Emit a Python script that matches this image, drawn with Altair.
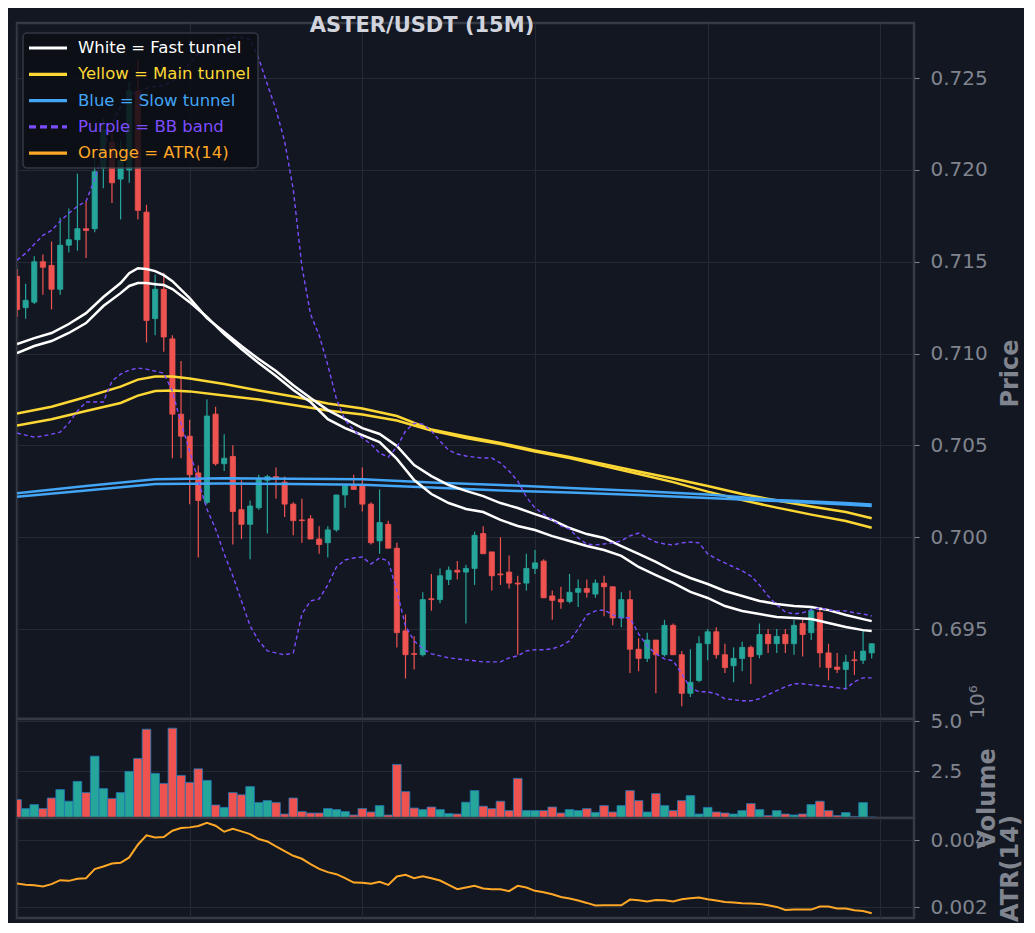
import altair as alt
import pandas as pd

# ---------------- data ----------------
candle_index = list(range(100))
open_ = [0.7142,0.7125,0.7128,0.7150,0.7148,0.7135,0.7159,0.7162,0.7168,0.7168,
         0.7201,0.7215,0.7195,0.7200,0.7243,0.7177,0.7119,0.7135,0.7108,0.7067,
         0.7055,0.7035,0.7019,0.7067,0.7040,0.7044,0.7015,0.7007,0.7016,0.7031,
         0.7033,0.7030,0.7018,0.70094,0.7010,0.6999,0.6997,0.7004,0.7023,0.7028,
         0.7028,0.7018,0.6998,0.7007,0.6994,0.6949,0.69366,0.6936,0.69665,0.6966,
         0.6977,0.6982,0.6981,0.6983,0.7002,0.6992,0.69800,0.6981,0.69750,0.6975,
         0.6983,0.6987,0.6968,0.69662,0.6965,0.6970,0.6972,0.6969,0.6975,0.6973,
         0.6956,0.6966,0.6939,0.6934,0.6944,0.6936,0.6952,0.6936,0.6915,0.6922,
         0.6942,0.69485,0.6936,0.6930,0.6934,0.6940,0.6936,0.6947,0.6942,0.6947,
         0.6942,0.6953,0.6948,0.6959,0.6937,0.69293,0.6928,0.69332,0.6933,0.6937]
high = [0.7146,0.7138,0.7153,0.7154,0.7161,0.7174,0.7179,0.7198,0.7183,0.7210,
        0.7228,0.7222,0.7216,0.7248,0.7260,0.7181,0.7143,0.7144,0.7110,0.7096,
        0.7064,0.7039,0.7075,0.7071,0.7056,0.7050,0.7031,0.7020,0.7034,0.7034,
        0.7038,0.7033,0.7019,0.7021,0.7012,0.7006,0.7006,0.7023,0.7028,0.7034,
        0.7038,0.7019,0.7026,0.7009,0.6997,0.6958,0.6946,0.6970,0.6980,0.6983,
        0.6984,0.6987,0.6985,0.7003,0.7006,0.6992,0.7000,0.6990,0.6979,0.6991,
        0.6993,0.6988,0.6971,0.6973,0.6980,0.6977,0.6977,0.6977,0.6979,0.6973,
        0.6970,0.6971,0.6945,0.6948,0.6944,0.6955,0.6953,0.6938,0.6939,0.6946,
        0.6950,0.6951,0.6942,0.6940,0.6943,0.6941,0.6953,0.6950,0.6950,0.6950,
        0.6955,0.6955,0.6962,0.6961,0.6942,0.6937,0.6936,0.6938,0.6949,0.6942]
low = [0.7120,0.7119,0.7127,0.7132,0.7124,0.7132,0.7155,0.7156,0.7152,0.7166,
       0.7190,0.7182,0.7173,0.7193,0.7173,0.7106,0.7110,0.7101,0.7043,0.7043,
       0.7018,0.6989,0.7018,0.7039,0.7036,0.6996,0.6999,0.6988,0.7015,0.7002,
       0.7021,0.7011,0.7001,0.6997,0.6999,0.6991,0.6989,0.7003,0.7016,0.7026,
       0.7014,0.6996,0.6991,0.6994,0.6940,0.6923,0.6928,0.6935,0.6960,0.6964,
       0.6974,0.6977,0.6953,0.6974,0.6991,0.6971,0.6974,0.6972,0.6936,0.6971,
       0.6980,0.6967,0.6955,0.6961,0.6964,0.6962,0.6967,0.6967,0.6957,0.6952,
       0.6951,0.6926,0.6927,0.6932,0.6915,0.6935,0.6936,0.6908,0.6913,0.6921,
       0.6933,0.6934,0.6926,0.6921,0.6927,0.6920,0.6934,0.6937,0.6937,0.6937,
       0.6936,0.6935,0.6944,0.6929,0.6922,0.6926,0.6917,0.6925,0.6931,0.6934]
close = [0.7124,0.7129,0.7150,0.7147,0.7135,0.7159,0.7162,0.7168,0.7167,0.7199,
         0.7222,0.7193,0.7205,0.7243,0.7178,0.7118,0.7135,0.7109,0.7067,0.7055,
         0.7034,0.7020,0.7066,0.7040,0.7043,0.7014,0.7007,0.7017,0.7032,0.7033,
         0.7032,0.7018,0.7009,0.70090,0.6999,0.6996,0.7004,0.7023,0.7028,0.7026,
         0.7018,0.6997,0.7008,0.6994,0.6948,0.6936,0.69362,0.6966,0.69660,0.6979,
         0.6982,0.6981,0.6983,0.7001,0.6991,0.6979,0.69795,0.6975,0.69745,0.6983,
         0.6986,0.6967,0.69656,0.69647,0.6970,0.6972,0.6970,0.6975,0.6973,0.6956,
         0.6966,0.6939,0.6934,0.6944,0.6936,0.6952,0.6936,0.6915,0.6921,0.6942,
         0.69485,0.6936,0.6929,0.6934,0.6940,0.6935,0.6947,0.6942,0.6946,0.6942,
         0.6952,0.6947,0.6960,0.6937,0.6929,0.69280,0.6932,0.69328,0.6938,0.6942]

volume_millions = [1.09,0.64,0.84,0.64,1.17,1.59,1.01,2.00,1.44,3.26,
                   1.64,1.14,1.44,2.50,3.15,4.61,2.40,1.90,4.66,2.30,
                   1.95,2.63,2.05,0.82,0.70,1.44,1.33,1.74,0.94,1.04,
                   0.94,0.37,1.17,0.49,0.42,0.42,0.64,0.59,0.49,0.32,
                   0.64,0.47,0.79,0.32,2.85,1.49,0.67,0.59,0.72,0.59,
                   0.39,0.37,0.96,1.54,0.76,0.64,1.01,0.54,2.15,0.54,
                   0.54,0.54,0.72,0.42,0.59,0.54,0.64,0.45,0.79,0.47,
                   0.79,1.54,1.04,0.47,1.39,0.79,0.54,1.04,1.29,0.37,
                   0.70,0.47,0.42,0.37,0.54,0.89,0.59,0.29,0.54,0.37,
                   0.32,0.37,0.84,1.01,0.54,0.29,0.44,0.25,0.94,0.22]

atr14 = [0.002706,0.002667,0.002657,0.002617,0.002687,0.002806,0.002786,0.002846,0.002866,0.003134,
         0.003214,0.003303,0.003323,0.003483,0.003861,0.004139,0.004080,0.004090,0.004279,0.004358,
         0.004378,0.004418,0.004517,0.004428,0.004249,0.004338,0.004259,0.004179,0.004030,0.003960,
         0.003811,0.003672,0.003532,0.003443,0.003284,0.003144,0.003045,0.002985,0.002866,0.002736,
         0.002726,0.002697,0.002756,0.002667,0.002915,0.002965,0.002866,0.002925,0.002866,0.002796,
         0.002667,0.002540,0.002587,0.002637,0.002557,0.002537,0.002537,0.002478,0.002637,0.002587,
         0.002488,0.002448,0.002388,0.002308,0.002259,0.002199,0.002129,0.002050,0.002060,0.002060,
         0.002060,0.002229,0.002209,0.002169,0.002219,0.002209,0.002169,0.002239,0.002269,0.002289,
         0.002239,0.002199,0.002159,0.002139,0.002119,0.002109,0.002100,0.002060,0.002010,0.001920,
         0.001930,0.001930,0.001930,0.002020,0.002020,0.001960,0.001960,0.001910,0.001891,0.001821]

fast_index = [0,2,4,6,8,10,12,13,14,15,16,17,18,20,22,24,26,28,30,32,34,36,38,40,42,44,46,48,
              50,52,54,56,58,60,62,64,66,68,70,72,74,76,78,80,82,84,86,88,90,92,94,96,98,99]
fast_upper = [0.71052,0.71084,0.71112,0.71161,0.71220,0.71308,0.71384,0.71438,0.71465,0.71460,
              0.71449,0.71427,0.71394,0.71302,0.71193,0.71117,0.71041,0.70970,0.70905,0.70828,
              0.70758,0.70692,0.70643,0.70594,0.70562,0.70497,0.70393,0.70333,0.70284,0.70252,
              0.70224,0.70186,0.70159,0.70126,0.70094,0.70050,0.70017,0.69996,0.69952,0.69909,
              0.69865,0.69816,0.69778,0.69745,0.69707,0.69680,0.69653,0.69636,0.69625,0.69620,
              0.69603,0.69576,0.69554,0.69543]
fast_lower = [0.71003,0.71041,0.71068,0.71112,0.71166,0.71259,0.71329,0.71368,0.71384,0.71384,
              0.71378,0.71373,0.71351,0.71280,0.71199,0.71106,0.71025,0.70948,0.70878,0.70802,
              0.70736,0.70643,0.70594,0.70556,0.70518,0.70426,0.70311,0.70235,0.70186,0.70154,
              0.70137,0.70094,0.70061,0.70039,0.70006,0.69979,0.69952,0.69930,0.69898,0.69838,
              0.69794,0.69751,0.69702,0.69669,0.69625,0.69598,0.69582,0.69565,0.69560,0.69554,
              0.69533,0.69511,0.69494,0.69489]

main_index = [0,4,8,12,14,16,18,20,24,28,32,36,40,44,48,52,56,60,64,68,72,76,80,84,88,92,96,99]
main_upper = [0.70673,0.70710,0.70763,0.70820,0.70858,0.70875,0.70875,0.70864,0.70834,0.70799,
              0.70766,0.70728,0.70701,0.70660,0.70586,0.70548,0.70513,0.70472,0.70437,0.70398,
              0.70358,0.70320,0.70279,0.70235,0.70200,0.70167,0.70137,0.70103]
main_lower = [0.70608,0.70642,0.70687,0.70731,0.70771,0.70796,0.70799,0.70794,0.70771,0.70750,
              0.70720,0.70690,0.70668,0.70635,0.70581,0.70540,0.70507,0.70466,0.70431,0.70387,
              0.70344,0.70300,0.70248,0.70202,0.70161,0.70123,0.70088,0.70051]

slow_index = [0,8,16,24,32,40,48,56,64,72,80,88,96,99]
slow_upper = [0.70239,0.70279,0.70315,0.70321,0.70318,0.70315,0.70298,0.70284,0.70268,0.70251,
              0.70232,0.70202,0.70186,0.70178]
slow_lower = [0.70220,0.70254,0.70290,0.70292,0.70289,0.70285,0.70271,0.70254,0.70243,0.70230,
              0.70213,0.70197,0.70178,0.70170]

bb_upper = [0.71508,0.71546,0.71595,0.71644,0.71671,0.71720,0.71764,0.71802,0.71829,0.71949,
            0.72112,0.72253,0.72346,0.72406,0.72427,0.72444,0.72455,0.72460,0.72482,0.72525,
            0.72580,0.72634,0.72672,0.72699,0.72710,0.72721,0.72721,0.72710,0.72607,0.72465,
            0.72329,0.72155,0.71894,0.71475,0.71214,0.71100,0.70937,0.70752,0.70638,0.70583,
            0.70540,0.70507,0.70458,0.70436,0.70491,0.70578,0.70621,0.70616,0.70578,0.70523,
            0.70474,0.70453,0.70442,0.70436,0.70431,0.70431,0.70404,0.70360,0.70306,0.70219,
            0.70159,0.70126,0.70094,0.70061,0.70045,0.69996,0.69963,0.69958,0.69963,0.69969,
            0.69980,0.70007,0.70023,0.69996,0.69974,0.69963,0.69958,0.69969,0.69974,0.69969,
            0.69909,0.69882,0.69860,0.69838,0.69816,0.69789,0.69740,0.69680,0.69631,0.69593,
            0.69582,0.69588,0.69604,0.69615,0.69604,0.69599,0.69599,0.69588,0.69582,0.69571]
bb_lower = [0.70567,0.70556,0.70545,0.70551,0.70561,0.70572,0.70621,0.70687,0.70736,0.70736,
            0.70736,0.70850,0.70888,0.70910,0.70921,0.70915,0.70904,0.70893,0.70795,0.70621,
            0.70469,0.70306,0.70153,0.70045,0.69909,0.69789,0.69653,0.69517,0.69435,0.69381,
            0.69370,0.69359,0.69370,0.69582,0.69653,0.69664,0.69740,0.69838,0.69876,0.69887,
            0.69892,0.69854,0.69887,0.69871,0.69707,0.69517,0.69435,0.69392,0.69365,0.69354,
            0.69343,0.69337,0.69332,0.69327,0.69321,0.69321,0.69321,0.69343,0.69354,0.69381,
            0.69387,0.69387,0.69392,0.69408,0.69435,0.69501,0.69577,0.69599,0.69604,0.69577,
            0.69561,0.69561,0.69474,0.69408,0.69365,0.69337,0.69327,0.69256,0.69180,0.69158,
            0.69158,0.69147,0.69120,0.69115,0.69109,0.69109,0.69120,0.69142,0.69164,0.69186,
            0.69202,0.69202,0.69196,0.69191,0.69186,0.69180,0.69175,0.69213,0.69234,0.69234]

legend_labels = ["White = Fast tunnel", "Yellow = Main tunnel", "Blue = Slow tunnel",
                 "Purple = BB band", "Orange = ATR(14)"]
price_ticks = [0.695, 0.700, 0.705, 0.710, 0.715, 0.720, 0.725]
volume_ticks = [2.5, 5.0]
atr_ticks = [0.002, 0.004]
x_grid = [0, 20, 40, 60, 80, 100]
title_text = "ASTER/USDT (15M)"

# ---------------- style ----------------
BG = "#131722"
GRID = "#262a35"
FRAME = "#363a45"
LABEL = "#80848e"
UP = "#26a69a"
DOWN = "#ef5350"
WHITE = "#ffffff"
YELLOW = "#fdd835"
BLUE = "#42a5f5"
PURPLE = "#7c4dff"
ORANGE = "#ffa726"
legend_colors = [WHITE, YELLOW, BLUE, PURPLE, ORANGE]
FONT = "DejaVu Sans"

W = 897
H_PRICE, H_VOL, H_ATR = 696, 99, 100

# ---------------- frames ----------------
candles = pd.DataFrame({"i": candle_index, "open": open_, "high": high,
                        "low": low, "close": close, "vol": volume_millions})
candles["dir"] = ["up" if c >= o else "down" for o, c in zip(open_, close)]
atr_df = pd.DataFrame({"i": candle_index, "atr": atr14})

fast_df = pd.concat([
    pd.DataFrame({"i": fast_index, "v": fast_upper, "s": "u"}),
    pd.DataFrame({"i": fast_index, "v": fast_lower, "s": "l"})], ignore_index=True)
main_df = pd.concat([
    pd.DataFrame({"i": main_index, "v": main_upper, "s": "u"}),
    pd.DataFrame({"i": main_index, "v": main_lower, "s": "l"})], ignore_index=True)
slow_df = pd.concat([
    pd.DataFrame({"i": slow_index, "v": slow_upper, "s": "u"}),
    pd.DataFrame({"i": slow_index, "v": slow_lower, "s": "l"})], ignore_index=True)
bb_df = pd.concat([
    pd.DataFrame({"i": candle_index, "v": bb_upper, "s": "u"}),
    pd.DataFrame({"i": candle_index, "v": bb_lower, "s": "l"})], ignore_index=True)

dir_scale = alt.Scale(domain=["up", "down"], range=[UP, DOWN])
xs = alt.Scale(domain=[0, 103.9], nice=False, zero=False)
x_axis = alt.Axis(values=x_grid, labels=False, ticks=False, domain=False, grid=True,
                  gridColor=GRID, title=None)


def yaxis(vals, fmt, title, tx, ty):
    return alt.Axis(orient="right", values=vals, format=fmt, title=title, titleAngle=270,
                    titleX=tx, titleY=ty, titleAlign="center", titleBaseline="middle",
                    titleFontSize=24, titleFontWeight="bold", titleColor=LABEL, titleFont=FONT,
                    labelFontSize=20, labelColor=LABEL, labelFont=FONT, labelPadding=11,
                    tickSize=5, tickColor=LABEL, domain=False, grid=True, gridColor=GRID)


ps = alt.Scale(domain=[0.6901, 0.7280], nice=False, zero=False)
price_axis = yaxis(price_ticks, ".3f", "Price", 96, 350)


def px(field):
    return alt.X(field, scale=xs, axis=x_axis)


def py(field):
    return alt.Y(field, scale=ps, axis=price_axis)


wicks = alt.Chart(candles).mark_rule(strokeWidth=1.2, clip=True).encode(
    x=px("i:Q"), y=py("low:Q"), y2="high:Q",
    color=alt.Color("dir:N", scale=dir_scale, legend=None),
)
bodies = alt.Chart(candles).transform_calculate(
    x0="datum.i - 0.3", x1="datum.i + 0.3"
).mark_rect(clip=True, strokeWidth=0.8).encode(
    x=px("x0:Q"), x2="x1:Q", y=py("open:Q"), y2="close:Q",
    color=alt.Color("dir:N", scale=dir_scale, legend=None),
    stroke=alt.Stroke("dir:N", scale=dir_scale, legend=None),
)


def line_layer(df, col, width, dash=None):
    kw = dict(color=col, strokeWidth=width, clip=True)
    if dash:
        kw["strokeDash"] = dash
    return alt.Chart(df).mark_line(**kw).encode(x=px("i:Q"), y=py("v:Q"), detail="s:N")


main_lines = line_layer(main_df, YELLOW, 2.5)
slow_lines = line_layer(slow_df, BLUE, 2.5)
fast_lines = line_layer(fast_df, WHITE, 2.5)
bb_lines = line_layer(bb_df, PURPLE, 1.4, [4, 3])

one = pd.DataFrame({"k": [0]})
legend_layers = [
    alt.Chart(one).mark_rect(fill="#0b0e14", opacity=0.85, stroke="#3a3e4a",
                             strokeWidth=1.5, cornerRadius=4).encode(
        x=alt.value(6), x2=alt.value(241), y=alt.value(10), y2=alt.value(145))
]
for k, (lab, col) in enumerate(zip(legend_labels, legend_colors)):
    yy = 25 + 26.3 * k
    rule_kw = dict(color=col, strokeWidth=3.2)
    if lab.startswith("Purple"):
        rule_kw["strokeDash"] = [7, 4]
    legend_layers.append(alt.Chart(one).mark_rule(**rule_kw).encode(
        x=alt.value(12), x2=alt.value(50), y=alt.value(yy)))
    legend_layers.append(alt.Chart(one).mark_text(
        text=lab, color=col, fontSize=16.5, font=FONT, align="left", baseline="middle").encode(
        x=alt.value(61), y=alt.value(yy)))

title_layer = alt.Chart(one).mark_text(
    text=title_text, fontSize=21, fontWeight="bold", font=FONT, color="#d1d4dc",
    align="center", baseline="middle").encode(x=alt.value(405), y=alt.value(3))
offset_layer = alt.Chart(one).mark_text(
    text="10\u2076", fontSize=20, font=FONT, color=LABEL, angle=270,
    align="center", baseline="middle").encode(x=alt.value(961), y=alt.value(679))

price = alt.layer(wicks, bodies, main_lines, slow_lines, fast_lines, bb_lines,
                  *legend_layers, title_layer, offset_layer).properties(width=W, height=H_PRICE)

vs = alt.Scale(domain=[0.17, 5.12], nice=False, zero=False)
vol = alt.Chart(candles).transform_calculate(
    x0="datum.i - 0.5", x1="datum.i + 0.5"
).mark_rect(clip=True, stroke="#1f77b4", strokeWidth=0.8).encode(
    x=px("x0:Q"),
    x2="x1:Q",
    y=alt.Y("vol:Q", scale=vs, axis=yaxis(volume_ticks, ".1f", "Volume", 73, 79)),
    y2=alt.datum(0),
    color=alt.Color("dir:N", scale=dir_scale, legend=None),
).properties(width=W, height=H_VOL)

ats = alt.Scale(domain=[0.00168, 0.004657], nice=False, zero=False)
atr = alt.Chart(atr_df).mark_line(color=ORANGE, strokeWidth=2, clip=True).encode(
    x=px("i:Q"),
    y=alt.Y("atr:Q", scale=ats, axis=yaxis(atr_ticks, ".3f", "ATR(14)", 96, 50)),
).properties(width=W, height=H_ATR)

chart = alt.vconcat(price, vol, atr, spacing=0, bounds="flush").resolve_scale(
    color="independent", y="independent"
).configure(
    background=BG, padding={"left": 7, "top": 5, "right": 0, "bottom": 0}, font=FONT
).configure_view(stroke=FRAME, strokeWidth=2.5, fill=BG)

chart.save("out.html", embed_options={"renderer": "svg", "actions": False})
